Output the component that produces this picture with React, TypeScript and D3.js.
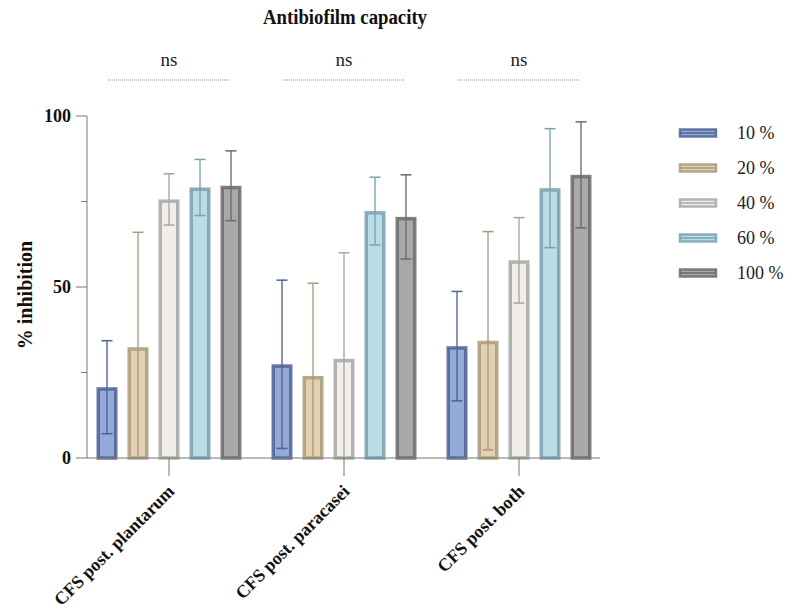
import React from 'react';
import * as d3 from 'd3';

const groups = ['CFS post. plantarum', 'CFS post. paracasei', 'CFS post. both'];
const series = ['10 %', '20 %', '40 %', '60 %', '100 %'];

// mean % inhibition per group, one value per concentration
const plantarumMean = [20.7, 32.4, 75.6, 79.1, 79.6];
const paracaseiMean = [27.4, 24.0, 29.0, 72.2, 70.5];
const bothMean = [32.7, 34.3, 57.8, 78.9, 82.8];

// standard deviation
const plantarumSd = [13.6, 33.6, 7.5, 8.2, 10.2];
const paracaseiSd = [24.6, 27.1, 31.0, 9.9, 12.3];
const bothSd = [16.0, 31.9, 12.5, 17.4, 15.5];

const yTicks = [0, 50, 100];
const yMinorTicks = [25, 75];

const fills = ['#93aadb', '#e2d2b2', '#f1eee9', '#b9dce6', '#a9a9a9'];
const strokes = ['#4d6290', '#a99a7c', '#a6a6a6', '#79a0ae', '#6a6a6a'];

const means = [plantarumMean, paracaseiMean, bothMean];
const sds = [plantarumSd, paracaseiSd, bothSd];

const serif = '"Liberation Serif", "Times New Roman", serif';

export default function App() {
  const W = 787;
  const H = 608;
  const axisLeft = 87;
  const axisRight = 600;
  const yTop = 116;
  const yBottom = 458;

  const x0 = d3.scaleBand<string>().domain(groups).range([81.5, 606.5]);
  const x1 = d3.scaleBand<string>().domain(series).range([15, 160]).paddingInner(10 / 31);
  const y = d3.scaleLinear().domain([0, 100]).range([yBottom, yTop]);

  const capW = 11;
  const bw = x1.bandwidth();

  return (
    <svg width={W} height={H} style={{ position: 'absolute', left: 0, top: 0, background: '#fff' }}>
      <text
        x={263}
        y={24}
        fontFamily={serif}
        fontWeight="bold"
        fontSize={20}
        textLength={164}
        lengthAdjust="spacingAndGlyphs"
        fill="#111"
      >
        Antibiofilm capacity
      </text>

      {groups.map(g => {
        const cx = x0(g)! + x0.bandwidth() / 2;
        return (
          <g key={'ns' + g}>
            <text x={cx} y={66} textAnchor="middle" fontFamily={serif} fontSize={19} fill="#222">ns</text>
            <line x1={cx - 61} x2={cx + 61} y1={80} y2={80} stroke="#8a8a8a" strokeWidth={1} strokeDasharray="1,1" />
          </g>
        );
      })}

      {/* bars */}
      {groups.map((g, gi) =>
        series.map((s, si) => {
          const bx = x0(g)! + x1(s)!;
          const v = means[gi][si];
          const sd = sds[gi][si];
          const cx = bx + bw / 2;
          const hi = v + sd;
          const loRaw = v - sd;
          const lo = Math.max(0, loRaw);
          return (
            <g key={g + s}>
              <rect
                x={bx + 1.75}
                y={y(v) + 1.75}
                width={bw - 3.5}
                height={y(0) - y(v) - 1.75}
                fill={fills[si]}
                stroke={strokes[si]}
                strokeOpacity={0.85}
                strokeWidth={3.5}
              />
              <line x1={cx} x2={cx} y1={y(hi)} y2={y(lo)} stroke={strokes[si]} strokeWidth={1.5} strokeOpacity={0.9} />
              <line x1={cx - capW / 2} x2={cx + capW / 2} y1={y(hi)} y2={y(hi)} stroke={strokes[si]} strokeWidth={1.5} />
              {loRaw > 0 && (
                <line x1={cx - capW / 2} x2={cx + capW / 2} y1={y(lo)} y2={y(lo)} stroke={strokes[si]} strokeWidth={1.5} />
              )}
            </g>
          );
        })
      )}

      {/* y axis */}
      <line x1={axisLeft} x2={axisLeft} y1={yTop} y2={yBottom} stroke="#777" strokeWidth={1} />
      {yTicks.map(t => (
        <g key={'yt' + t}>
          <line x1={axisLeft - 11} x2={axisLeft} y1={y(t)} y2={y(t)} stroke="#777" strokeWidth={1} />
          <text x={71} y={y(t)} dy="0.35em" textAnchor="end" fontFamily={serif} fontWeight="bold" fontSize={18} fill="#111">
            {t}
          </text>
        </g>
      ))}
      {yMinorTicks.map(t => (
        <line key={'ym' + t} x1={axisLeft - 6} x2={axisLeft} y1={y(t)} y2={y(t)} stroke="#777" strokeWidth={1} />
      ))}
      <text
        transform={`translate(25,295) rotate(-90)`}
        textAnchor="middle"
        dy="0.35em"
        fontFamily={serif}
        fontWeight="bold"
        fontSize={20}
        fill="#111"
      >
        % inhibition
      </text>

      {/* x axis */}
      <line x1={axisLeft} x2={axisRight} y1={yBottom} y2={yBottom} stroke="#777" strokeWidth={1} />
      {groups.map(g => {
        const cx = x0(g)! + x0.bandwidth() / 2;
        return (
          <g key={'xt' + g}>
            <line x1={cx} x2={cx} y1={yBottom} y2={yBottom + 18} stroke="#777" strokeWidth={1} />
            <text
              transform={`translate(${cx + 2},${yBottom + 30}) rotate(-45)`}
              textAnchor="end"
              dy="0.35em"
              fontFamily={serif}
              fontWeight="bold"
              fontSize={18}
              fill="#111"
            >
              {g}
            </text>
          </g>
        );
      })}

      {/* legend */}
      {series.map((s, i) => {
        const ly = 133 + i * 35;
        return (
          <g key={'lg' + s}>
            <rect x={680} y={ly - 3.5} width={36} height={7} fill={fills[i]} stroke={strokes[i]} strokeWidth={2.5} strokeOpacity={0.85} />
            <line x1={681} x2={715} y1={ly} y2={ly} stroke={strokes[i]} strokeWidth={1.5} />
            <text x={737} y={ly} dy="0.35em" fontFamily={serif} fontSize={18} fill="#222">
              {s}
            </text>
          </g>
        );
      })}
    </svg>
  );
}
